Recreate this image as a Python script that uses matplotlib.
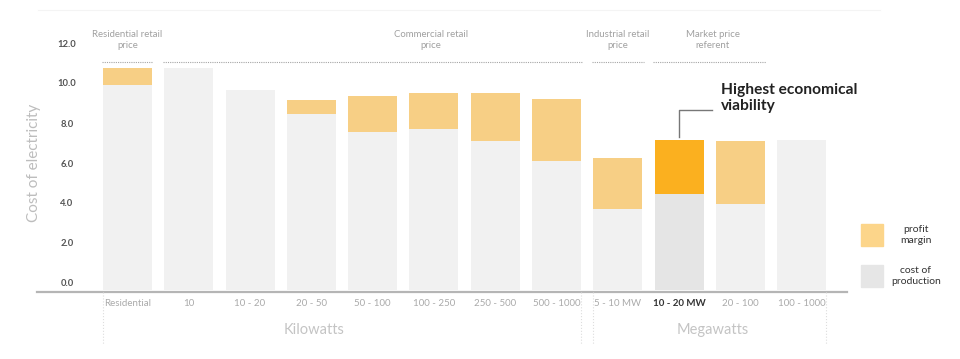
import matplotlib.pyplot as plt
from matplotlib.patches import Rectangle
from matplotlib.lines import Line2D

plt.rcParams['font.family'] = ['Lato', 'DejaVu Sans']

# data
categories = ["Residential", "10", "10 - 20", "20 - 50", "50 - 100", "100 - 250",
              "250 - 500", "500 - 1000", "5 - 10 MW", "10 - 20 MW", "20 - 100", "100 - 1000"]
production = [9.95, 10.8, 9.7, 8.5, 7.6, 7.77, 7.17, 6.13, 3.75, 4.48, 4.0, 7.2]
margin = [0.85, 0.0, 0.0, 0.72, 1.8, 1.76, 2.38, 3.12, 2.55, 2.7, 3.15, 0.0]
highlight = 9
price_groups = [("Residential retail\nprice", 0, 0, 0.0),
                ("Commercial retail\nprice", 1, 7, 4.95),
                ("Industrial retail\nprice", 8, 8, 8.0),
                ("Market price\nreferent", 9, 10, 9.55)]
unit_groups = [("Kilowatts", 0, 7, 3.05), ("Megawatts", 8, 11, 9.55)]
y_ticks = [0, 2, 4, 6, 8, 10, 12]

orange = "#F7CF85"
orange_hi = "#FBB01F"
grey = "#F1F1F1"
grey_hi = "#E5E5E5"

fig = plt.figure(figsize=(9.6, 3.59), dpi=100)
ax = fig.add_axes([37 / 960, (359 - 292) / 359, 810 / 960, 264 / 359])
ax.set_xlim(-1.476, 11.74)
ax.set_ylim(-0.4, 12.8)
ax.axis("off")

x = list(range(len(categories)))
floor = -0.3  # bars run down to the baseline
prod_colors = [grey_hi if i == highlight else grey for i in x]
marg_colors = [orange_hi if i == highlight else orange for i in x]
ax.bar(x, [p - floor for p in production], bottom=floor, width=0.8, color=prod_colors)
ax.bar(x, margin, bottom=production, width=0.8, color=marg_colors)

# baseline
ax.plot([-1.476, 11.74], [-0.4, -0.4], color="#b5b5b5", lw=1.6, clip_on=False)

# y tick labels
for v in y_ticks:
    ax.text(-0.987, v, f"{v:.1f}", ha="center", va="center", fontsize=6.8,
            color="#555555", fontweight="bold")
ax.text(-1.53, 6.05, "Cost of electricity", rotation=90, ha="center", va="center",
        fontsize=11, color="#bdbdbd")

# x tick labels
for i, lab in enumerate(categories):
    hi = i == highlight
    ax.text(i, -0.95, lab, ha="center", va="center", fontsize=7,
            color="#333333" if hi else "#aaaaaa", fontweight="bold" if hi else "normal")

# unit groups with separators
for name, a, b, cx in unit_groups:
    ax.text(cx, -2.3, name, ha="center", va="center", fontsize=10.5, color="#c4c4c4")
    for xs in (a - 0.4, b + 0.4):
        ax.plot([xs, xs], [-0.4, -3.05], color="#dddddd", lw=0.8, ls=":",
                clip_on=False)

# price groups on top
for name, a, b, cx in price_groups:
    ax.plot([a - 0.42, b + 0.42], [11.1, 11.1], color="#a5a5a5", lw=0.8,
            ls=(0, (1, 1)), clip_on=False)
    ax.text(cx, 12.18, name, ha="center", va="center", fontsize=6.9,
            color="#a0a0a0", linespacing=1.3)

# annotation
top_hi = production[highlight] + margin[highlight]
ax.plot([highlight, highlight, 9.53], [top_hi + 0.15, 8.7, 8.7], color="#777777", lw=1)
ax.text(9.68, 9.3, "Highest economical\nviability", ha="left", va="center",
        fontsize=11.2, fontweight="bold", color="#222222", linespacing=1.1)

# faint top rule
fig.add_artist(Line2D([38 / 960, 880 / 960], [1 - 10 / 359, 1 - 10 / 359],
                      color="#f4f4f4", lw=0.8))

# legend
fig.add_artist(Rectangle((861 / 960, (359 - 246) / 359), 22 / 960, 22 / 359,
                         color="#FCD58A", transform=fig.transFigure))
fig.add_artist(Rectangle((861 / 960, (359 - 287) / 359), 22 / 960, 22 / 359,
                         color="#E6E6E6", transform=fig.transFigure))
fig.text(916 / 960, (359 - 235) / 359, "profit\nmargin", ha="center", va="center",
         fontsize=7.5, color="#333333", linespacing=1.2)
fig.text(916 / 960, (359 - 276) / 359, "cost of\nproduction", ha="center", va="center",
         fontsize=7.5, color="#333333", linespacing=1.2)

fig.savefig("out.png", dpi=100, facecolor="white")
